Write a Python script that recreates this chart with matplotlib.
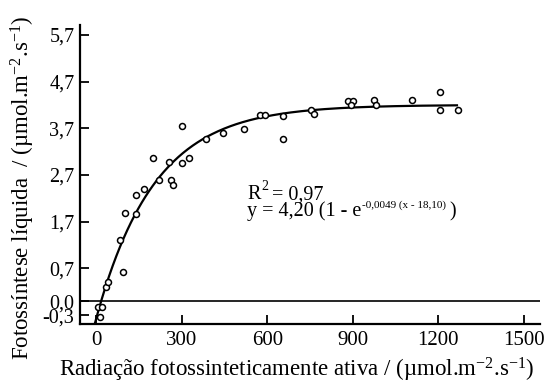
import numpy as np
import matplotlib
matplotlib.use('Agg')
import matplotlib.pyplot as plt

plt.rcParams['font.family'] = ['Liberation Serif', 'DejaVu Serif']
plt.rcParams['mathtext.fontset'] = 'custom'
plt.rcParams['mathtext.rm'] = 'Liberation Serif'
plt.rcParams['mathtext.it'] = 'Liberation Serif:italic'
plt.rcParams['mathtext.bf'] = 'Liberation Serif:bold'

# measured points (PAR, net photosynthesis)
par = [8, 21, 13, 34, 43, 94, 84, 103, 139, 140, 168, 201, 221, 257, 262, 269,
       300, 301, 327, 384, 446, 519, 575, 593, 656, 656, 755, 765, 884, 902,
       895, 974, 983, 1106, 1206, 1206, 1269]
photo = [-0.12, -0.13, -0.34, 0.31, 0.41, 0.62, 1.31, 1.89, 1.87, 2.28, 2.39,
         3.07, 2.59, 2.97, 2.59, 2.49, 2.96, 3.75, 3.06, 3.47, 3.59, 3.69,
         3.99, 3.98, 3.96, 3.48, 4.10, 4.00, 4.29, 4.29, 4.19, 4.31, 4.20,
         4.30, 4.48, 4.09, 4.10]

# fitted model shown on the chart: y = a (1 - exp(-k (x - x0)))
fit_a, fit_k, fit_x0 = 4.20, 0.0049, 18.10
fit_xmin, fit_xmax = -5, 1265

xticks = [0, 300, 600, 900, 1200, 1500]
xticklabels = ['0', '300', '600', '900', '1200', '1500']
yticks = [5.7, 4.7, 3.7, 2.7, 1.7, 0.7, 0.0, -0.3]
yticklabels = ['5,7', '4,7', '3,7', '2,7', '1,7', '0,7', '0,0', '-0,3']

W, H = 547, 386
fig = plt.figure(figsize=(W / 100, H / 100), dpi=100, facecolor='white')
ax = fig.add_axes([80 / W, 62 / H, 460 / W, 299 / H])

xfit = np.linspace(fit_xmin, fit_xmax, 300)
yfit = fit_a * (1 - np.exp(-fit_k * (xfit - fit_x0)))
ax.plot(xfit, yfit, color='black', lw=1.6, zorder=3)
ax.plot(par, photo, 'o', ms=4.3, mfc='white', mec='black', mew=1.1, zorder=4)
ax.axhline(0.0, color='black', lw=1.2, zorder=2)

ax.set_xlim(-56, 1556)
ax.set_ylim(-0.49, 5.91)
ax.set_xticks(xticks)
ax.set_xticklabels(xticklabels)
ax.set_yticks(yticks)
ax.set_yticklabels(yticklabels)
ax.tick_params(direction='in', length=6.5, width=1.3, labelsize=15, colors='black')
ax.tick_params(axis='x', pad=5)
ax.tick_params(axis='y', pad=4, labelsize=14.5)

for side in ('top', 'right'):
    ax.spines[side].set_visible(False)
for side in ('left', 'bottom'):
    ax.spines[side].set_linewidth(1.6)

fig.text(297 / W, 1 - 370 / H,
         'Radiação fotossinteticamente ativa / (µmol.m$^{-2}$.s$^{-1}$)',
         ha='center', va='center', fontsize=16.5)
fig.text(23 / W, 1 - 188 / H,
         'Fotossíntese líquida  / (µmol.m$^{-2}$.s$^{-1}$)',
         ha='center', va='center', rotation=90, fontsize=16.5)

# equation block, built piece by piece so the superscripts sit like the original
renderer = fig.canvas.get_renderer()


def put_run(x_px, base_px, s, size, raise_px=0):
    t = fig.text(x_px / W, 1 - (base_px - raise_px) / H, s,
                 ha='left', va='baseline', fontsize=size)
    return t.get_window_extent(renderer).x1


x = put_run(247, 199.5, 'R', 14.5)
x = put_run(x + 1, 199.5, '2', 10, raise_px=10)
put_run(x + 3, 199.5, '= 0,97', 14.5)

x = put_run(247, 216, 'y = 4,20 (1 - e', 14.5)
x = put_run(x + 1, 216, '-0,0049 (x - 18,10)', 8, raise_px=8)
put_run(x + 3, 216, ')', 14.5)

fig.savefig('out.png', dpi=100, facecolor='white')
